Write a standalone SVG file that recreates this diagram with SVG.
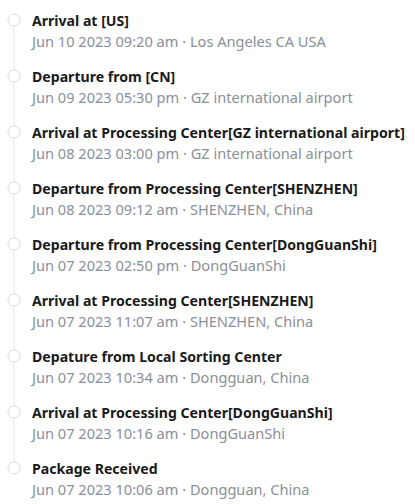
<svg xmlns="http://www.w3.org/2000/svg" width="415" height="504" viewBox="0 0 415 504">
<style>
.t{font-family:"Noto Sans","Liberation Sans",sans-serif;font-size:14.1px;font-weight:bold;fill:#1a1a1a}
.s{font-family:"Noto Sans","Liberation Sans",sans-serif;font-size:14.6px;fill:#8a8f99}
.dot{fill:#fff;stroke:#dcdcdc;stroke-width:1}
.ln{stroke:#e8e8e8;stroke-width:1}
</style>
<rect width="415" height="504" fill="#fff"/>
<g id="connectors">
<line class="ln" x1="14" y1="26" x2="14" y2="70"/>
<line class="ln" x1="14" y1="82" x2="14" y2="126"/>
<line class="ln" x1="14" y1="138" x2="14" y2="182"/>
<line class="ln" x1="14" y1="194" x2="14" y2="238"/>
<line class="ln" x1="14" y1="250" x2="14" y2="294"/>
<line class="ln" x1="14" y1="306" x2="14" y2="350"/>
<line class="ln" x1="14" y1="362" x2="14" y2="406"/>
<line class="ln" x1="14" y1="418" x2="14" y2="462"/>
</g>
<g id="n1"><circle class="dot" cx="14" cy="20" r="6"/><text class="t" x="32" y="26">Arrival at [US]</text><text class="s" x="32" y="47">Jun 10 2023 09:20 am · Los Angeles CA USA</text></g>
<g id="n2"><circle class="dot" cx="14" cy="76" r="6"/><text class="t" x="32" y="82">Departure from [CN]</text><text class="s" x="32" y="103">Jun 09 2023 05:30 pm · GZ international airport</text></g>
<g id="n3"><circle class="dot" cx="14" cy="132" r="6"/><text class="t" x="32" y="138">Arrival at Processing Center[GZ international airport]</text><text class="s" x="32" y="159">Jun 08 2023 03:00 pm · GZ international airport</text></g>
<g id="n4"><circle class="dot" cx="14" cy="188" r="6"/><text class="t" x="32" y="194">Departure from Processing Center[SHENZHEN]</text><text class="s" x="32" y="215">Jun 08 2023 09:12 am · SHENZHEN, China</text></g>
<g id="n5"><circle class="dot" cx="14" cy="244" r="6"/><text class="t" x="32" y="250">Departure from Processing Center[DongGuanShi]</text><text class="s" x="32" y="271">Jun 07 2023 02:50 pm · DongGuanShi</text></g>
<g id="n6"><circle class="dot" cx="14" cy="300" r="6"/><text class="t" x="32" y="306">Arrival at Processing Center[SHENZHEN]</text><text class="s" x="32" y="327">Jun 07 2023 11:07 am · SHENZHEN, China</text></g>
<g id="n7"><circle class="dot" cx="14" cy="356" r="6"/><text class="t" x="32" y="362">Depature from Local Sorting Center</text><text class="s" x="32" y="383">Jun 07 2023 10:34 am · Dongguan, China</text></g>
<g id="n8"><circle class="dot" cx="14" cy="412" r="6"/><text class="t" x="32" y="418">Arrival at Processing Center[DongGuanShi]</text><text class="s" x="32" y="439">Jun 07 2023 10:16 am · DongGuanShi</text></g>
<g id="n9"><circle class="dot" cx="14" cy="468" r="6"/><text class="t" x="32" y="474">Package Received</text><text class="s" x="32" y="495">Jun 07 2023 10:06 am · Dongguan, China</text></g>
</svg>
